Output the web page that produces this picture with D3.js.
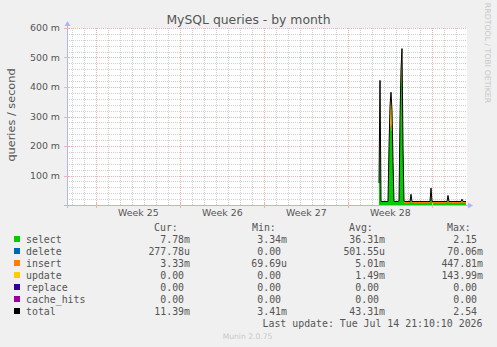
<!DOCTYPE html>
<html>
<head>
<meta charset="utf-8">
<script src="https://cdn.jsdelivr.net/npm/d3@7"></script>
<style>
    html, body { margin: 0; padding: 0; background: #f0f0f0; }
    svg { display: block; }
    text { font-family: "DejaVu Sans", sans-serif; }
    .mono { font-family: "DejaVu Sans Mono", monospace; }
</style>
</head>
<body>
<div id="chart"></div>
<script>
// time axis (munin month view: 2 hours per sample)
const graphEnd = Date.UTC(2026, 6, 14, 21, 10)
const graphStart = graphEnd - 800 * 3600e3
const dataStart = Date.UTC(2026, 6, 7, 13, 10)
const stepMs = 2 * 3600e3

const weekLabels = ["Week 25", "Week 26", "Week 27", "Week 28"]
const weekCenters = [Date.UTC(2026, 5, 17, 12), Date.UTC(2026, 5, 24, 12), Date.UTC(2026, 6, 1, 12), Date.UTC(2026, 6, 8, 12)]
const yTicks = [100, 200, 300, 400, 500, 600]

// series values in milli-queries / second
const selectValues = [70, 330,
    10.5, 10.8, 10.2, 10.6, 10.4, 10.9, 10.3, 10.6,
    190, 280, 260, 250, 140,
    10.4, 10.7, 10.2, 10.5, 10.8,
    12, 240, 400, 510, 185, 8,
    6.4, 6.6, 6.3, 6.8, 6.5, 6.2,
    30, 6.5,
    6.4, 6.7, 6.3, 6.5, 6.6, 6.2, 6.8, 6.4, 6.5, 6.3, 6.7, 6.6, 6.4, 6.5, 6.2, 6.6, 6.8, 6.4,
    48, 7,
    6.5, 6.3, 6.6, 6.4, 6.7, 6.5, 6.2, 6.6, 6.4, 6.8, 6.5, 6.3, 6.6, 6.4, 6.5,
    26, 6.6,
    6.4, 6.5, 6.7, 6.3, 6.6, 6.5, 6.4, 6.8, 6.2, 6.5, 6.6, 6.4,
    14, 6.5,
    6.4, 6.6, 6.3]
const deleteValues = [0.3, 0.4,
    0.28, 0.28, 0.28, 0.28, 0.28, 0.28, 0.28, 0.28,
    0.3, 0.35, 0.3, 0.3, 0.3,
    0.28, 0.28, 0.28, 0.28, 0.28,
    0.28, 0.3, 0.3, 0.3, 0.3, 0.28,
    0.28, 0.28, 0.28, 0.28, 0.28, 0.28,
    0.3, 0.28,
    0.28, 0.28, 0.28, 0.28, 0.28, 0.28, 0.28, 0.28, 0.28, 0.28, 0.28, 0.28, 0.28, 0.28, 0.28, 0.28, 0.28, 0.28,
    0.3, 0.28,
    0.28, 0.28, 0.28, 0.28, 0.28, 0.28, 0.28, 0.28, 0.28, 0.28, 0.28, 0.28, 0.28, 0.28, 0.28,
    0.3, 0.28,
    0.28, 0.28, 0.28, 0.28, 0.28, 0.28, 0.28, 0.28, 0.28, 0.28, 0.28, 0.28,
    0.28, 0.28,
    0.28, 0.28, 0.28]
const insertValues = [4, 80,
    1.2, 1.2, 1.2, 1.2, 1.2, 1.2, 1.2, 1.2,
    8, 15, 12, 20, 8,
    1.2, 1.2, 1.2, 1.2, 1.2,
    1.5, 55, 50, 20, 12, 5.5,
    5.0, 5.2, 4.9, 5.1, 5.0, 4.8,
    6, 5.1,
    5.0, 4.9, 5.1, 5.0, 5.2, 4.8, 5.0, 5.1, 4.9, 5.0, 5.2, 5.0, 4.9, 5.1, 5.0, 4.8, 5.1, 5.0,
    8, 5.2,
    5.0, 5.1, 4.9, 5.0, 5.2, 5.0, 4.8, 5.1, 5.0, 4.9, 5.0, 5.1, 5.0, 4.9, 5.0,
    6, 5.0,
    5.1, 5.0, 4.9, 5.0, 5.2, 5.0, 4.9, 5.1, 5.0, 4.8, 5.0, 5.1,
    5.5, 5.0,
    5.1, 4.9, 5.0]
const updateValues = [0, 12,
    0, 0, 0, 0, 0, 0, 0, 0,
    0, 40, 110, 50, 0,
    0, 0, 0, 0, 0,
    0, 0, 10, 0, 0, 0,
    0, 0, 0, 0, 0, 0,
    0, 0,
    0, 0, 0, 0, 0, 0, 0, 0, 0, 0, 0, 0, 0, 0, 0, 0, 0, 0,
    1, 0,
    0, 0, 0, 0, 0, 0, 0, 0, 0, 0, 0, 0, 0, 0, 0,
    0, 0,
    0, 0, 0, 0, 0, 0, 0, 0, 0, 0, 0, 0,
    0, 0,
    0, 0, 0]

// legend
const seriesNames = ["select", "delete", "insert", "update", "replace", "cache_hits", "total"]
const seriesColors = ["#00cc00", "#0066b3", "#ff8000", "#ffcc00", "#330099", "#990099", "#000000"]
const curLabels = ["7.78m", "277.78u", "3.33m", "0.00", "0.00", "0.00", "11.39m"]
const minLabels = ["3.34m", "0.00", "69.69u", "0.00", "0.00", "0.00", "3.41m"]
const avgLabels = ["36.31m", "501.55u", "5.01m", "1.49m", "0.00", "0.00", "43.31m"]
const maxLabels = ["2.15", "70.06m", "447.81m", "143.99m", "0.00", "0.00", "2.54"]

const W = 497, H = 347
const plot = { left: 67, right: 467, top: 28, bottom: 205 }

const svg = d3.select("#chart").append("svg")
    .attr("width", W)
    .attr("height", H)

svg.append("rect").attr("width", W).attr("height", H).attr("fill", "#f0f0f0")
svg.append("rect")
    .attr("x", plot.left).attr("y", plot.top)
    .attr("width", plot.right - plot.left).attr("height", plot.bottom - plot.top)
    .attr("fill", "#ffffff")

const x = d3.scaleUtc().domain([graphStart, graphEnd]).range([plot.left, plot.right])
const y = d3.scaleLinear().domain([0, 600]).range([plot.bottom, plot.top])
const crisp = v => Math.round(v) + 0.5

const minorColor = "#d0d0d0"
const majorColor = "#ecb4b4"

// grid - minor
const minorY = d3.range(20, 600, 20).filter(v => v % 100 !== 0)
svg.append("g").selectAll("line")
    .data(minorY)
    .join("line")
    .attr("x1", plot.left).attr("x2", plot.right)
    .attr("y1", d => crisp(y(d))).attr("y2", d => crisp(y(d)))
    .attr("stroke", minorColor).attr("stroke-dasharray", "1,1")
    .attr("shape-rendering", "crispEdges")

const days = d3.utcDay.range(graphStart, graphEnd).filter(d => d.getUTCDay() !== 0)
svg.append("g").selectAll("line")
    .data(days)
    .join("line")
    .attr("x1", d => crisp(x(d))).attr("x2", d => crisp(x(d)))
    .attr("y1", plot.top).attr("y2", plot.bottom)
    .attr("stroke", minorColor).attr("stroke-dasharray", "1,1")
    .attr("shape-rendering", "crispEdges")

// grid - major
svg.append("g").selectAll("line")
    .data(yTicks)
    .join("line")
    .attr("x1", plot.left).attr("x2", plot.right)
    .attr("y1", d => crisp(y(d))).attr("y2", d => crisp(y(d)))
    .attr("stroke", majorColor).attr("stroke-dasharray", "1,1")
    .attr("shape-rendering", "crispEdges")

const sundays = d3.utcSunday.range(graphStart, graphEnd)
svg.append("g").selectAll("line")
    .data(sundays)
    .join("line")
    .attr("x1", d => crisp(x(d))).attr("x2", d => crisp(x(d)))
    .attr("y1", plot.top).attr("y2", plot.bottom)
    .attr("stroke", majorColor).attr("stroke-dasharray", "1,1")
    .attr("shape-rendering", "crispEdges")

// stacked areas
const rows = selectValues.map((v, i) => ({
    t: dataStart + i * stepMs,
    select: v,
    delete: deleteValues[i],
    insert: insertValues[i],
    update: updateValues[i]
}))
const stackKeys = ["select", "delete", "insert", "update"]
const stacked = d3.stack().keys(stackKeys)(rows)

const area = d3.area()
    .x(d => x(d.data.t))
    .y0(d => y(d[0]))
    .y1(d => y(d[1]))

svg.append("g").selectAll("path")
    .data(stacked)
    .join("path")
    .attr("fill", d => seriesColors[seriesNames.indexOf(d.key)])
    .attr("d", area)

// total line = top of the stack
const stackTop = stacked[stacked.length - 1]
svg.append("path")
    .datum(stackTop)
    .attr("fill", "none")
    .attr("stroke", "#000")
    .attr("stroke-width", 1)
    .attr("d", d3.line().x(d => x(d.data.t)).y(d => y(d[1])))

// axes lines + arrows
const axisColor = "#b4b4f0"
svg.append("line")
    .attr("x1", plot.left - 3).attr("x2", plot.right + 2)
    .attr("y1", plot.bottom + 0.5).attr("y2", plot.bottom + 0.5)
    .attr("stroke", axisColor)
svg.append("line")
    .attr("x1", plot.left + 0.5).attr("x2", plot.left + 0.5)
    .attr("y1", plot.bottom + 3).attr("y2", plot.top - 3)
    .attr("stroke", axisColor)
svg.append("path")
    .attr("d", `M${plot.right + 1},${plot.bottom - 2.5} L${plot.right + 6},${plot.bottom + 0.5} L${plot.right + 1},${plot.bottom + 3.5} Z`)
    .attr("fill", axisColor)
svg.append("path")
    .attr("d", `M${plot.left - 2.5},${plot.top - 2} L${plot.left + 0.5},${plot.top - 7} L${plot.left + 3.5},${plot.top - 2} Z`)
    .attr("fill", axisColor)

// tick marks
svg.append("g").selectAll("line")
    .data(yTicks)
    .join("line")
    .attr("x1", plot.left - 3).attr("x2", plot.left + 2)
    .attr("y1", d => crisp(y(d))).attr("y2", d => crisp(y(d)))
    .attr("stroke", majorColor)
svg.append("g").selectAll("line")
    .data(sundays)
    .join("line")
    .attr("x1", d => crisp(x(d))).attr("x2", d => crisp(x(d)))
    .attr("y1", plot.bottom - 2).attr("y2", plot.bottom + 3)
    .attr("stroke", majorColor)

// y tick labels
const textColor = "#555"
svg.append("g").selectAll("text")
    .data(yTicks)
    .join("text")
    .attr("x", plot.left - 7)
    .attr("y", d => y(d))
    .attr("dy", "0.36em")
    .attr("text-anchor", "end")
    .style("font-size", "9.4px")
    .attr("fill", textColor)
    .text(d => `${d} m`)

// x labels (weeks)
svg.append("g").selectAll("text")
    .data(weekLabels)
    .join("text")
    .attr("x", (d, i) => x(weekCenters[i]))
    .attr("y", 212.5)
    .attr("dy", "0.36em")
    .attr("text-anchor", "middle")
    .style("font-size", "9.4px")
    .attr("fill", textColor)
    .text(d => d)

// title
svg.append("text")
    .attr("x", 248.5).attr("y", 19.5)
    .attr("dy", "0.36em")
    .attr("text-anchor", "middle")
    .style("font-size", "12.4px")
    .attr("fill", textColor)
    .text("MySQL queries - by month")

// y axis label
svg.append("text")
    .attr("transform", "translate(11,115) rotate(-90)")
    .attr("dy", "0.36em")
    .attr("text-anchor", "middle")
    .style("font-size", "11.3px")
    .attr("fill", textColor)
    .text("queries / second")

// side watermark
svg.append("text")
    .attr("transform", "translate(488,53) rotate(90)")
    .attr("dy", "0.36em")
    .attr("text-anchor", "middle")
    .style("font-size", "7.8px")
    .attr("fill", "#c8c8c8")
    .text("RRDTOOL / TOBI OETIKER")

// legend
const charW = 5.96
const legendY0 = 239.5
const rowH = 12
const legendFont = "9.9px"
const headers = [["Cur:", 154], ["Min:", 252], ["Avg:", 349], ["Max:", 447]]
svg.append("g").selectAll("text")
    .data(headers)
    .join("text")
    .attr("class", "mono")
    .attr("x", d => d[1]).attr("y", legendY0 - rowH)
    .attr("dy", "0.36em")
    .style("font-size", legendFont)
    .attr("fill", textColor)
    .text(d => d[0])

const legend = svg.append("g")
seriesNames.forEach((name, i) => {
    const ly = legendY0 + i * rowH
    legend.append("rect")
        .attr("x", 14).attr("y", ly - 3.5)
        .attr("width", 6).attr("height", 6)
        .attr("fill", seriesColors[i])
    legend.append("text")
        .attr("class", "mono")
        .attr("x", 26).attr("y", ly)
        .attr("dy", "0.36em")
        .style("font-size", legendFont)
        .attr("fill", textColor)
        .text(name)
    const cols = [[curLabels, 190], [minLabels, 287], [avgLabels, 385], [maxLabels, 483]]
    cols.forEach(([labels, right]) => {
        const s = labels[i]
        const hasUnit = /[a-z]$/i.test(s)
        legend.append("text")
            .attr("class", "mono")
            .attr("x", hasUnit ? right : right - charW)
            .attr("y", ly)
            .attr("dy", "0.36em")
            .attr("text-anchor", "end")
            .style("font-size", legendFont)
            .attr("fill", textColor)
            .text(s)
    })
})

svg.append("text")
    .attr("class", "mono")
    .attr("x", 482.5).attr("y", 323.5)
    .attr("dy", "0.36em")
    .attr("text-anchor", "end")
    .style("font-size", legendFont)
    .attr("fill", textColor)
    .text("Last update: Tue Jul 14 21:10:10 2026")

svg.append("text")
    .attr("x", 247.5).attr("y", 336.5)
    .attr("dy", "0.36em")
    .attr("text-anchor", "middle")
    .style("font-size", "7.6px")
    .attr("fill", "#c8c8c8")
    .text("Munin 2.0.75")
</script>
</body>
</html>
